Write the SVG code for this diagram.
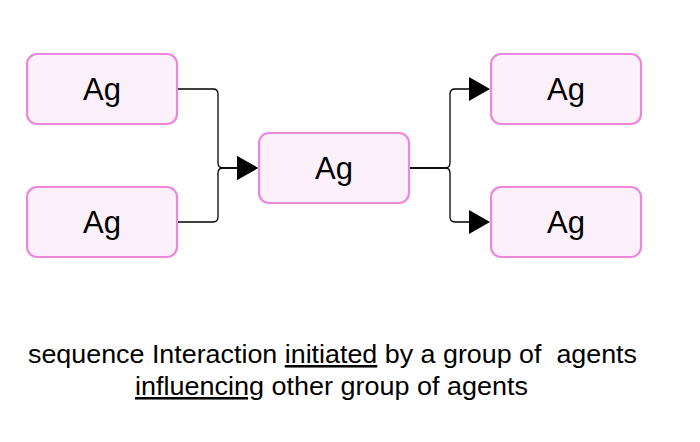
<svg xmlns="http://www.w3.org/2000/svg" width="700" height="442" viewBox="0 0 700 442">
<style>
.box{fill:#fcf0fa;stroke:#ec88dc;stroke-width:2.2}
.lbl{font-family:"Liberation Sans",Arial,sans-serif;font-size:31px;fill:#000;text-anchor:middle}
.cap{font-family:"Liberation Sans",Arial,sans-serif;font-size:25.5px;fill:#000;white-space:pre}
.edge{fill:none;stroke:#000;stroke-width:1.3}
</style>
<defs>
<marker id="arr" markerUnits="userSpaceOnUse" markerWidth="22" markerHeight="26" refX="0" refY="12" orient="auto" viewBox="0 0 22 24">
<path d="M0,0 L21,12 L0,24 Z" fill="#000"/>
</marker>
</defs>
<rect width="700" height="442" fill="#fff"/>
<g id="connectors">
<path class="edge" d="M177,89 H213 Q218,89 218,94 V163 Q218,168 223,168 H237" marker-end="url(#arr)"/>
<path class="edge" d="M177,222 H213 Q218,222 218,217 V173 Q218,168 223,168 H237" marker-end="url(#arr)"/>
<path class="edge" d="M409,168 H445 Q450,168 450,163 V94 Q450,89 455,89 H469" marker-end="url(#arr)"/>
<path class="edge" d="M409,168 H445 Q450,168 450,173 V217 Q450,222 455,222 H469" marker-end="url(#arr)"/>
</g>
<g id="node-left-top"><rect class="box" x="27" y="54" width="150" height="70" rx="10"/><text class="lbl" x="102" y="100">Ag</text></g>
<g id="node-left-bottom"><rect class="box" x="27" y="187" width="150" height="70" rx="10"/><text class="lbl" x="102" y="233">Ag</text></g>
<g id="node-center"><rect class="box" x="259" y="133" width="150" height="70" rx="10"/><text class="lbl" x="334" y="179">Ag</text></g>
<g id="node-right-top"><rect class="box" x="491" y="54" width="150" height="70" rx="10"/><text class="lbl" x="566" y="100">Ag</text></g>
<g id="node-right-bottom"><rect class="box" x="491" y="187" width="150" height="70" rx="10"/><text class="lbl" x="566" y="233">Ag</text></g>
<g id="caption">
<text class="cap" x="28" y="363" textLength="609" lengthAdjust="spacingAndGlyphs" xml:space="preserve">sequence Interaction <tspan text-decoration="underline">initiated</tspan> by a group of  agents</text>
<text class="cap" x="135" y="395" textLength="393" lengthAdjust="spacingAndGlyphs"><tspan text-decoration="underline">influencing</tspan> other group of agents</text>
</g>
</svg>
